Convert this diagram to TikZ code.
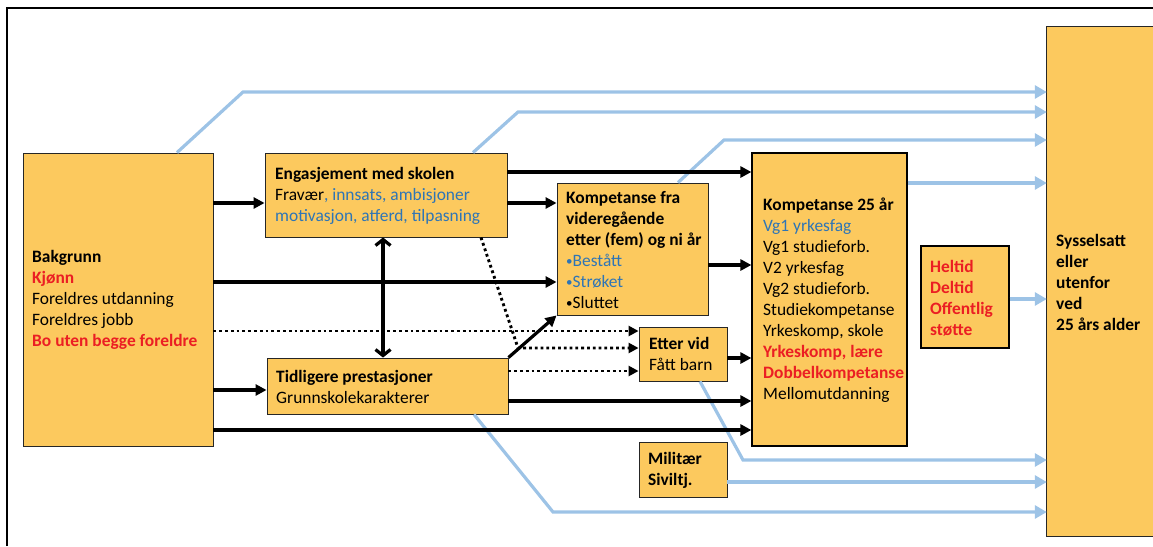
\documentclass[tikz,border=0pt]{standalone}
\usepackage{fontspec}
\setmainfont{Carlito}
\usetikzlibrary{arrows.meta}
\definecolor{boxfill}{RGB}{252,201,94}
\definecolor{txtred}{RGB}{235,30,35}
\definecolor{txtblue}{RGB}{46,117,182}
\definecolor{arrblue}{RGB}{157,195,230}
\newcommand{\rd}[1]{\textcolor{txtred}{\textbf{#1}}}
\newcommand{\bl}[1]{\textcolor{txtblue}{#1}}
\newcommand{\smbul}{\raisebox{0.1ex}{\scalebox{0.75}{•}}}
\begin{document}
\begin{tikzpicture}[x=1pt,y=-1pt,
 box/.style={draw=black!85, line width=0.9pt, fill=boxfill, inner sep=0pt},
 txt/.style={anchor=west, align=left, inner sep=0pt, font=\fontsize{17.4pt}{21pt}\selectfont},
 blk/.style={line width=3.2pt, -{Triangle[length=11pt,width=11pt]}},
 dots/.style={line width=2.9pt, dash pattern=on 2.8pt off 3pt, -{Triangle[length=10pt,width=10pt]}},
 blu/.style={arrblue, line width=3.2pt, -{Triangle[length=12pt,width=13pt]}},
 barb/.style={line width=3.2pt, {Straight Barb[length=6pt,width=15pt]}-{Straight Barb[length=6pt,width=15pt]}},
]
\useasboundingbox (0,0) rectangle (1153,546);
% frame
\draw[line width=1.5pt] (7,546) -- (7,8) -- (1153,8);

% boxes
\node[box, minimum width=190pt, minimum height=293pt] (bak) at (118,299.5) {};
\node[box, minimum width=242pt, minimum height=84pt] (eng) at (386,195) {};
\node[box, minimum width=241pt, minimum height=56pt] (tid) at (387.5,386) {};
\node[box, minimum width=151pt, minimum height=132pt] (kfra) at (632.5,249) {};
\node[box, minimum width=88pt, minimum height=54pt] (etter) at (683,354) {};
\node[box, draw=black, line width=1.2pt, minimum width=155pt, minimum height=293pt] (k25) at (829.5,299.5) {};
\node[box, draw=black, line width=1.1pt, minimum width=88pt, minimum height=102pt] (helt) at (965,297) {};
\node[box, minimum width=88pt, minimum height=55pt] (mil) at (683,469.5) {};
\node[fill=boxfill, inner sep=0pt, minimum width=106pt, minimum height=509pt] (sys) at (1100,281.5) {};
\draw[black!85, line width=0.9pt] (sys.north east) -- (sys.north west) -- (sys.south west) -- (sys.south east);

% texts
\node[txt] (bakT) at (32,300) {\textbf{Bakgrunn}\\ \rd{Kjønn}\\ Foreldres utdanning\\ Foreldres jobb\\ \rd{Bo uten begge foreldre}};
\node[txt] (engT) at (275,196) {\textbf{Engasjement med skolen}\\ Fravær\bl{, innsats, ambisjoner}\\ \bl{motivasjon, atferd, tilpasning}};
\node[txt] (tidT) at (276,387) {\textbf{Tidligere prestasjoner}\\ Grunnskolekarakterer};
\node[txt] (kfraT) at (566,250) {\textbf{Kompetanse fra}\\ \textbf{videregående}\\ \textbf{etter (fem) og ni år}\\ \bl{\smbul Bestått}\\ \bl{\smbul Strøket}\\ \smbul Sluttet};
\node[txt] (etterT) at (649,354) {\textbf{Etter vid}\\ Fått barn};
\node[txt] (k25T) at (763,300) {\textbf{Kompetanse 25 år}\\ \bl{Vg1 yrkesfag}\\ Vg1 studieforb.\\ V2 yrkesfag\\ Vg2 studieforb.\\ Studiekompetanse\\ Yrkeskomp, skole\\ \rd{Yrkeskomp, lære}\\ \rd{Dobbelkompetanse}\\ Mellomutdanning};
\node[txt] (heltT) at (930,298) {\rd{Heltid}\\ \rd{Deltid}\\ \rd{Offentlig}\\ \rd{støtte}};
\node[txt] (milT) at (648,470) {\textbf{Militær}\\ \textbf{Siviltj.}};
\node[txt] (sysT) at (1056,282) {\textbf{Sysselsatt}\\ \textbf{eller}\\ \textbf{utenfor}\\ \textbf{ved}\\ \textbf{25 års alder}};

% blue connectors
\coordinate (c1) at (243,92);
\coordinate (c2) at (518,112);
\coordinate (c3) at (724,140);
\coordinate (c6) at (743,460);
\coordinate (c8) at (553,512);
\draw[blu] (bak.north -| 177,0) -- (c1) -- (sys.west |- c1);
\draw[blu] (eng.north -| 473,0) -- (c2) -- (sys.west |- c2);
\draw[blu] (kfra.north -| 678,0) -- (c3) -- (sys.west |- c3);
\draw[blu] (k25.east |- 0,183) -- (sys.west |- 0,183);
\draw[blu] (helt.east |- 0,299) -- (sys.west |- 0,299);
\draw[blu] (etter.south -| 700,0) -- (c6) -- (sys.west |- c6);
\draw[blu] (mil.east |- 0,482) -- (sys.west |- 0,482);
\draw[blu] (tid.south -| 474,0) -- (c8) -- (sys.west |- c8);

% black connectors
\draw[blk] (bak.east |- 0,203) -- (eng.west |- 0,203);
\draw[blk] (bak.east |- 0,282) -- (kfra.west |- 0,282);
\draw[blk] (bak.east |- 0,390) -- (tid.west |- 0,390);
\draw[blk] (bak.east |- 0,430) -- (k25.west |- 0,430);
\draw[blk] (eng.east |- 0,172) -- (k25.west |- 0,172);
\draw[blk] (eng.east |- 0,203) -- (kfra.west |- 0,203);
\draw[blk] (kfra.east |- 0,265) -- (k25.west |- 0,265);
\draw[blk] (etter.east |- 0,358) -- (k25.west |- 0,358);
\draw[blk] (tid.east |- 0,401) -- (k25.west |- 0,401);
\draw[blk] (tid.north east) -- (kfra.south west);
\draw[barb] (eng.south -| 383,0) -- (tid.north -| 383,0);

% dotted connectors
\coordinate (d1) at (518,348);
\draw[dots] (bak.east |- 0,331) -- (etter.west |- 0,331);
\draw[dots] (eng.south -| 481,0) -- (d1) -- (etter.west |- d1);
\draw[dots] (tid.east |- 0,371) -- (etter.west |- 0,371);
\end{tikzpicture}
\end{document}
